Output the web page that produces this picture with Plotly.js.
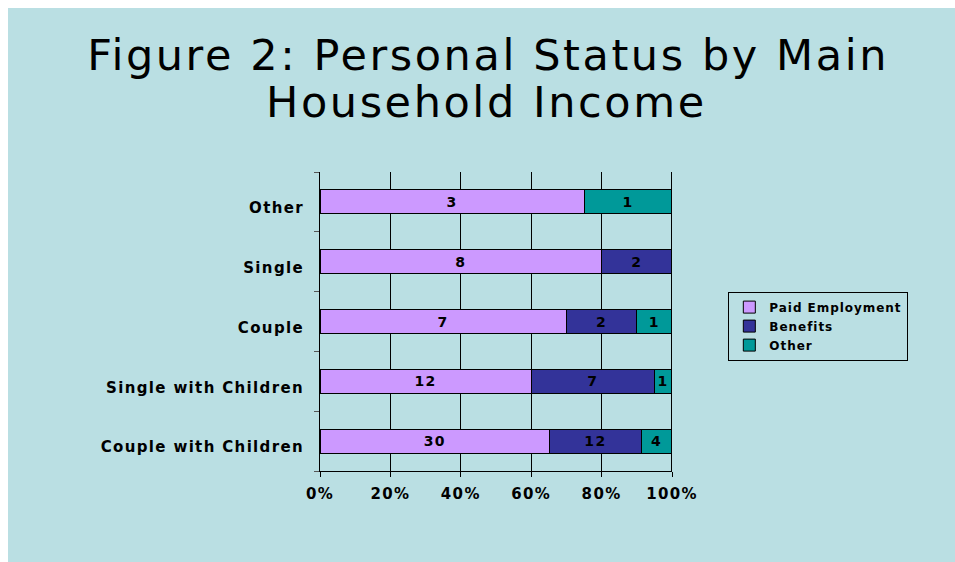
<!DOCTYPE html>
<html>
<head>
<meta charset="utf-8">
<script src="https://cdn.plot.ly/plotly-3.0.1.min.js"></script>
<style>
  html, body { margin: 0; padding: 0; background: #ffffff; }
  #chart { position: absolute; left: 8px; top: 8px; width: 947px; height: 554px; }
  .gtitle, .annotation-text { letter-spacing: 0.06em; }
  .xtick text, .ytick text { letter-spacing: 0.09em; }
  .legendtext { letter-spacing: 0.08em; }
  .bartext { letter-spacing: 0.1em; }
</style>
</head>
<body>
<div id="chart"></div>
<script>
// Categories (bottom to top as drawn)
const categories = ["Couple with Children", "Single with Children", "Couple", "Single", "Other"];
// Series values (counts)
const paidEmployment = [30, 12, 7, 8, 3];
const benefits = [12, 7, 2, 2, 0];
const otherIncome = [4, 1, 1, 0, 1];
const seriesNames = ["Paid Employment", "Benefits", "Other"];
const xTickVals = [0, 20, 40, 60, 80, 100];
const xTickText = ["0%", "20%", "40%", "60%", "80%", "100%"];
const titleLine1 = "Figure 2: Personal Status by Main";
const titleLine2 = "Household Income";

const colors = ["#cc99ff", "#333399", "#009999"];
const seriesData = [paidEmployment, benefits, otherIncome];
const FONT = "DejaVu Sans, Arial, sans-serif";

const traces = seriesData.map((vals, i) => ({
  type: "bar",
  orientation: "h",
  name: seriesNames[i],
  y: categories,
  x: vals,
  text: vals.map(v => v ? String(v) : ""),
  textposition: "inside",
  insidetextanchor: "middle",
  textangle: 0,
  constraintext: "none",
  textfont: { family: FONT, size: 14, color: "#000000", weight: "bold" },
  marker: { color: colors[i], line: { color: "#000000", width: 1 } },
  hoverinfo: "skip"
}));

const layout = {
  width: 947,
  height: 554,
  paper_bgcolor: "#badfe3",
  plot_bgcolor: "rgba(0,0,0,0)",
  margin: { l: 312, r: 283, t: 164, b: 91, pad: 0 },
  barmode: "stack",
  barnorm: "percent",
  bargap: 0.6,
  showlegend: true,
  title: {
    text: titleLine1,
    xref: "container",
    x: 0.507,
    xanchor: "center",
    yref: "container",
    y: 0.9418,
    yanchor: "top",
    font: { family: FONT, size: 43, color: "#000000" }
  },
  annotations: [{
    text: titleLine2,
    xref: "paper", yref: "paper",
    x: 0.4744, y: 1.235,
    xanchor: "center", yanchor: "middle",
    showarrow: false,
    font: { family: FONT, size: 43, color: "#000000" }
  }],
  xaxis: {
    range: [0, 100],
    tickvals: xTickVals,
    ticktext: xTickText,
    showgrid: true,
    gridcolor: "#000000",
    gridwidth: 1,
    showline: true,
    linecolor: "#000000",
    linewidth: 1,
    ticks: "outside",
    ticklen: 5,
    tickcolor: "#000000",
    ticklabelstandoff: 4,
    zeroline: false,
    fixedrange: true,
    tickfont: { family: FONT, size: 15, color: "#000000", weight: "bold" }
  },
  yaxis: {
    type: "category",
    categoryorder: "array",
    categoryarray: categories,
    range: [-0.5, 4.5],
    showgrid: false,
    showline: true,
    linecolor: "#000000",
    linewidth: 1,
    ticks: "outside",
    tickson: "boundaries",
    ticklen: 5,
    tickcolor: "#555555",
    ticklabelstandoff: 12,
    ticklabelshift: 6,
    zeroline: false,
    fixedrange: true,
    tickfont: { family: FONT, size: 15, color: "#000000", weight: "bold" }
  },
  legend: {
    x: 1.16,
    xanchor: "left",
    y: 0.60,
    yanchor: "top",
    bgcolor: "rgba(0,0,0,0)",
    bordercolor: "#000000",
    borderwidth: 1,
    traceorder: "normal",
    tracegroupgap: 0,
    itemwidth: 30,
    font: { family: FONT, size: 12, color: "#000000", weight: "bold" }
  },
  shapes: [{
    type: "line", xref: "x", yref: "paper",
    x0: 100, x1: 100, y0: 0, y1: 1,
    line: { color: "#000000", width: 2 }
  }]
};

Plotly.newPlot("chart", traces, layout, { staticPlot: true, displayModeBar: false });
</script>
</body>
</html>
